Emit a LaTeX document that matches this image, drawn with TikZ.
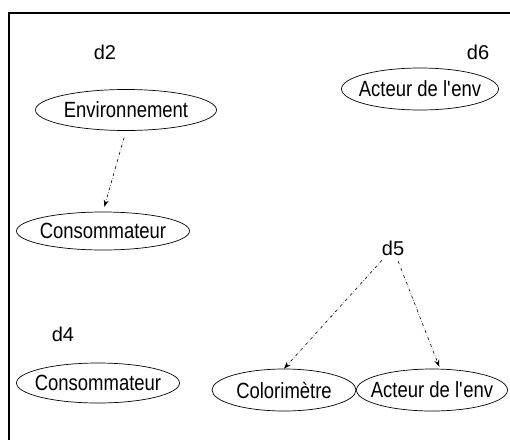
\documentclass[tikz,border=0pt]{standalone}
\usepackage{fontspec}
\setmainfont{Liberation Sans}[FakeStretch=0.84]
\newfontfamily\etiqfont{Liberation Sans}
\usetikzlibrary{shapes.geometric,arrows.meta}

\newcommand{\mot}[1]{\makebox[0pt]{#1}}
\tikzset{
  etat/.style={draw, ellipse, line width=0.7pt, inner sep=0pt,
    font=\fontsize{22}{24}\selectfont},
  marque/.style={inner sep=1pt, font=\etiqfont\fontsize{20}{24}\selectfont},
  lien/.style={-{Stealth[length=7pt,width=5pt]}, dash dot, line width=0.6pt}
}

\begin{document}
\begin{tikzpicture}[x=1pt,y=-1pt]
        \useasboundingbox (0,0) rectangle (510,439);
        % cadre
        \draw[line width=1.6pt] (9,441) -- (9,13) -- (512,13);
        % d2
        \node[marque] (d2) at (105,52) {d2};
        \node[etat, minimum width=181pt, minimum height=41pt] (env) at (126,110) {\mot{Environnement}};
        \node[etat, minimum width=173pt, minimum height=38pt] (cons1) at (103,231) {\mot{Consommateur}};
        \draw[lien, shorten <=7pt, shorten >=5pt] (env.south) -- (cons1.north);
        % d6
        \node[marque] (d6) at (478,52) {d6};
        \node[etat, minimum width=157pt, minimum height=42pt] (act1) at (420,89) {\mot{Acteur de l\textquotesingle env}};
        % d4
        \node[marque] (d4) at (63,334) {d4};
        \node[etat, minimum width=163pt, minimum height=40pt] (cons2) at (98,383) {\mot{Consommateur}};
        % d5
        \node[marque] (d5) at (393,248) {d5};
        \node[etat, minimum width=144pt, minimum height=42pt] (col) at (284,390) {\mot{Colorimètre}};
        \node[etat, minimum width=151pt, minimum height=42pt] (act2) at (432,390) {\mot{Acteur de l\textquotesingle env}};
        \draw[lien, shorten <=5pt] (d5) -- (col.north);
        \draw[lien, shorten <=5pt, shorten >=2pt] (d5) -- ([xshift=8pt]act2.north);
\end{tikzpicture}
\end{document}
